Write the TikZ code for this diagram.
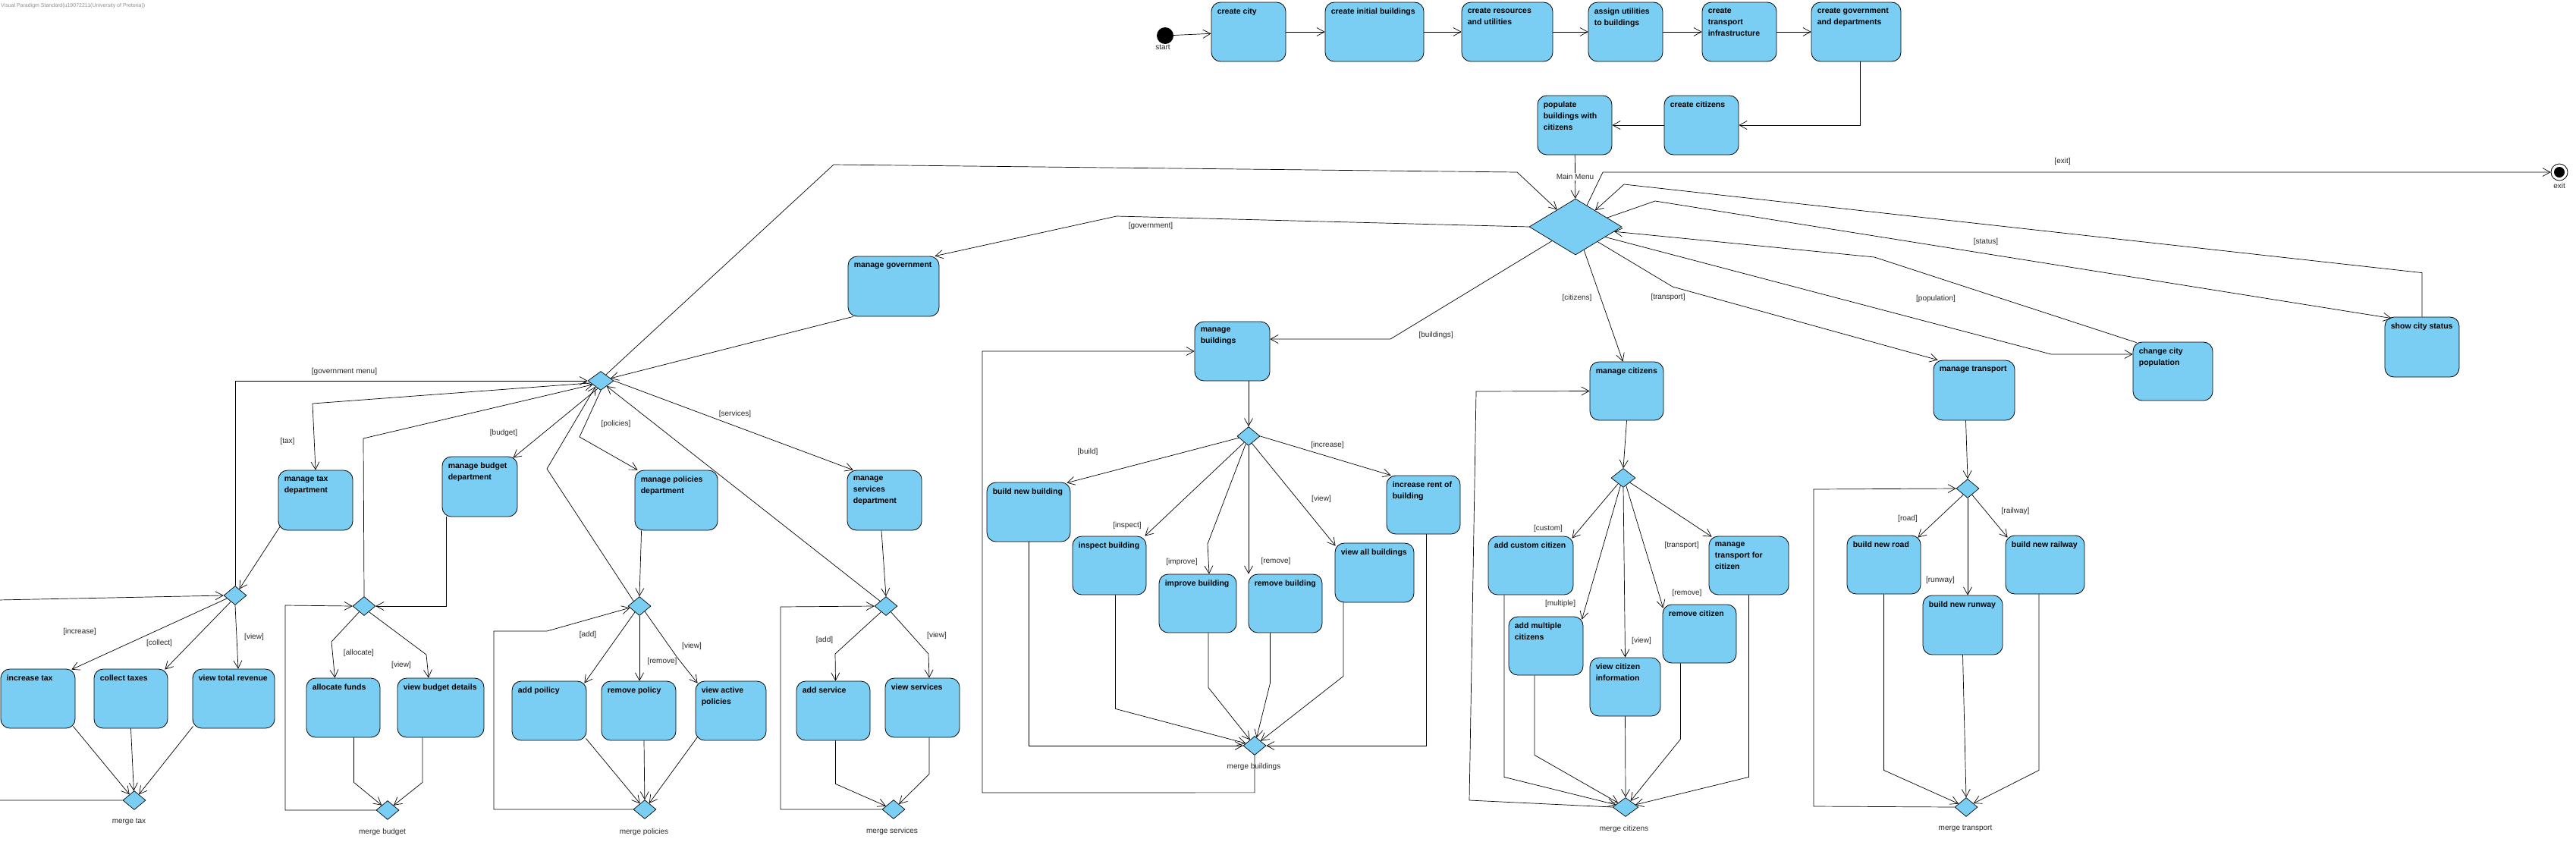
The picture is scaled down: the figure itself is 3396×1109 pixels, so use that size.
\documentclass[tikz,border=0pt]{standalone}
\usepackage{fontspec}
\setmainfont{Liberation Sans}
\usepackage{tikz}
\usetikzlibrary{arrows.meta, shapes.geometric}
\definecolor{actblue}{HTML}{7ACEF4}

\begin{document}
\begin{tikzpicture}[x=1pt, y=-1pt,
    act/.style={draw, fill=actblue, rounded corners=12pt, line width=0.8pt, inner sep=0pt, minimum height=78pt},
    actext/.style={anchor=north west, inner sep=0pt, xshift=8pt, yshift=-8pt, align=left, font=\bfseries\fontsize{10.5}{15}\selectfont},
    dec/.style={diamond, draw, fill=actblue, line width=0.7pt, inner sep=0pt, minimum width=30pt, minimum height=25pt},
    lbl/.style={font=\fontsize{10}{12}\selectfont, text=black!85, inner sep=1pt},
    flow/.style={line width=0.7pt, -{Straight Barb[length=10pt, width=11pt]}},
    initial/.style={circle, fill=black, minimum size=22pt, inner sep=0pt},
    final/.style={circle, draw, fill=white, line width=0.8pt, minimum size=22pt, inner sep=0pt},
    finaldot/.style={circle, fill=black, minimum size=14pt, inner sep=0pt}]

          \path[use as bounding box, fill=white] (0,0) rectangle (3396,1109);
          \node[anchor=west, font=\fontsize{7}{8}\selectfont, text=black!45, inner sep=0pt] (wm) at (1,8) {Visual Paradigm Standard(u19072211(University of Pretoria))};

          \node[initial] (start) at (1536,47) {};
          \node[lbl] (lstart) at (1533,62) {start};
          \node[act, minimum width=98pt, label={[actext]north west:create city}] (city) at (1646,42) {};
          \node[act, minimum width=130pt, label={[actext]north west:create initial buildings}] (initbld) at (1812,42) {};
          \node[act, minimum width=120pt, label={[actext]north west:{create resources\\and utilities}}] (resources) at (1987,42) {};
          \node[act, minimum width=98pt, label={[actext]north west:{assign utilities\\to buildings}}] (utilities) at (2143,42) {};
          \node[act, minimum width=98pt, label={[actext]north west:{create\\transport\\infrastructure}}] (transinfra) at (2293,42) {};
          \node[act, minimum width=118pt, label={[actext]north west:{create government\\and departments}}] (govdept) at (2447,42) {};
          \node[act, minimum width=98pt, label={[actext]north west:create citizens}] (makecit) at (2243,165) {};
          \node[act, minimum width=98pt, label={[actext]north west:{populate\\buildings with\\citizens}}] (populate) at (2076,165) {};

          \node[dec, minimum width=122pt, minimum height=74pt] (md) at (2077,299) {};
          \node[final] (exit) at (3374,227) {};
          \node[finaldot] (exitdot) at (exit.center) {};
          \node[lbl] (lexit) at (3374,245) {exit};

          \node[act, minimum width=120pt, minimum height=79pt, label={[actext]north west:manage government}] (mgov) at (1178,377.5) {};
          \node[act, minimum width=99pt, label={[actext]north west:{manage\\buildings}}] (mbld) at (1624.5,463) {};
          \node[act, minimum width=97pt, minimum height=77pt, label={[actext]north west:manage citizens}] (mcit) at (2144.5,515.5) {};
          \node[act, minimum width=107pt, minimum height=79pt, label={[actext]north west:manage transport}] (mtrans) at (2602.5,514.5) {};
          \node[act, minimum width=105pt, minimum height=77pt, label={[actext]north west:{change city\\population}}] (chpop) at (2864.5,489.5) {};
          \node[act, minimum width=98pt, minimum height=79pt, label={[actext]north west:show city status}] (status) at (3193,457.5) {};

          \node[dec, minimum width=34pt] (gd) at (792,502) {};
          \node[act, minimum width=98pt, minimum height=79pt, label={[actext]north west:{manage tax\\department}}] (mtax) at (416,659.5) {};
          \node[act, minimum width=99pt, minimum height=79pt, label={[actext]north west:{manage budget\\department}}] (mbud) at (632.5,641.5) {};
          \node[act, minimum width=109pt, minimum height=79pt, label={[actext]north west:{manage policies\\department}}] (mpol) at (891.5,659.5) {};
          \node[act, minimum width=98pt, minimum height=79pt, label={[actext]north west:{manage\\services\\department}}] (msrv) at (1166,659.5) {};

          \node[dec] (taxd) at (310,785) {};
          \node[act, minimum width=98pt, label={[actext]north west:increase tax}] (inctax) at (50,921) {};
          \node[act, minimum width=97pt, label={[actext]north west:collect taxes}] (coltax) at (172.5,921) {};
          \node[act, minimum width=108pt, label={[actext]north west:view total revenue}] (viewrev) at (308,921) {};
          \node[dec] (mtaxd) at (177,1055) {};
          \node[lbl] (lmtax) at (170,1083) {merge tax};

          \node[dec] (budd) at (480,799) {};
          \node[act, minimum width=97pt, label={[actext]north west:allocate funds}] (alloc) at (452.5,933) {};
          \node[act, minimum width=114pt, label={[actext]north west:view budget details}] (viewbud) at (581,933) {};
          \node[dec] (mbudd) at (511,1068) {};
          \node[lbl] (lmbud) at (504,1097) {merge budget};

          \node[dec] (pold) at (843,799) {};
          \node[act, minimum width=98pt, label={[actext]north west:add poilicy}] (addpol) at (724,937) {};
          \node[act, minimum width=98pt, label={[actext]north west:remove policy}] (rempol) at (842,937) {};
          \node[act, minimum width=93pt, label={[actext]north west:{view active\\policies}}] (viewpol) at (963.5,937) {};
          \node[dec] (mpold) at (850,1067) {};
          \node[lbl] (lmpol) at (849,1097) {merge policies};

          \node[dec] (srvd) at (1168,799) {};
          \node[act, minimum width=97pt, label={[actext]north west:add service}] (addsrv) at (1098.5,937) {};
          \node[act, minimum width=98pt, label={[actext]north west:view services}] (viewsrv) at (1216,933) {};
          \node[dec] (msrvd) at (1178,1067) {};
          \node[lbl] (lmsrv) at (1176,1096) {merge services};

          \node[dec] (bd) at (1646,575) {};
          \node[act, minimum width=110pt, label={[actext]north west:build new building}] (newbld) at (1356,675) {};
          \node[act, minimum width=97pt, minimum height=77pt, label={[actext]north west:inspect building}] (inspbld) at (1462.5,745.5) {};
          \node[act, minimum width=102pt, minimum height=77pt, label={[actext]north west:improve building}] (impbld) at (1579,795.5) {};
          \node[act, minimum width=97pt, minimum height=77pt, label={[actext]north west:remove building}] (rembld) at (1694.5,795.5) {};
          \node[act, minimum width=104pt, label={[actext]north west:view all buildings}] (viewbld) at (1812,755) {};
          \node[act, minimum width=97pt, minimum height=77pt, label={[actext]north west:{increase rent of\\building}}] (rentbld) at (1876.5,665.5) {};
          \node[dec] (mbldd) at (1654,983) {};
          \node[lbl] (lmbld) at (1653,1011) {merge buildings};

          \node[dec, minimum width=32pt] (cd) at (2140,630) {};
          \node[act, minimum width=112pt, minimum height=77pt, label={[actext]north west:add custom citizen}] (addcus) at (2018,745.5) {};
          \node[act, minimum width=98pt, minimum height=77pt, label={[actext]north west:{add multiple\\citizens}}] (addmul) at (2038,851.5) {};
          \node[act, minimum width=93pt, minimum height=77pt, label={[actext]north west:{view citizen\\information}}] (viewcit) at (2142.5,905.5) {};
          \node[act, minimum width=97pt, minimum height=77pt, label={[actext]north west:remove citizen}] (remcit) at (2240.5,835.5) {};
          \node[act, minimum width=105pt, minimum height=77pt, label={[actext]north west:{manage\\transport for\\citizen}}] (transcit) at (2305.5,745.5) {};
          \node[dec, minimum width=34pt] (mcitd) at (2143,1064) {};
          \node[lbl] (lmcit) at (2141,1093) {merge citizens};

          \node[dec] (td) at (2594,644) {};
          \node[act, minimum width=97pt, minimum height=77pt, label={[actext]north west:build new road}] (road) at (2483.5,744.5) {};
          \node[act, minimum width=104pt, minimum height=77pt, label={[actext]north west:build new railway}] (railway) at (2696,744.5) {};
          \node[act, minimum width=105pt, label={[actext]north west:build new runway}] (runway) at (2587.5,824) {};
          \node[dec] (mtransd) at (2592,1064) {};
          \node[lbl] (lmtrans) at (2591,1092) {merge transport};

          \draw[flow] (start) -- (city);
          \draw[flow] (city) -- (initbld);
          \draw[flow] (initbld) -- (resources);
          \draw[flow] (resources) -- (utilities);
          \draw[flow] (utilities) -- (transinfra);
          \draw[flow] (transinfra) -- (govdept);
          \draw[flow] ([xshift=5pt]govdept.south) |- (makecit.east);
          \draw[flow] (makecit) -- (populate);
          \draw[flow] (populate) -- node[lbl, fill=white] (lmain) {Main Menu} (md);
          \draw[flow] (md.62) -- (2113,227) -- (exit);

          \coordinate (bldbend) at (1833,447);
          \coordinate (popbend) at (2704,467);
          \draw[flow] (md.west) -- (1472,285) -- ([xshift=-6pt]mgov.north east);
          \draw[flow] (md.211) -- (bldbend) -- (mbld.east |- bldbend);
          \draw[flow] (md.290) -- ([xshift=-5pt]mcit.north);
          \draw[flow] (md.326) -- (2205,378) -- ([xshift=6pt]mtrans.north west);
          \draw[flow] (md.341) -- (popbend) -- (chpop.west |- popbend);
          \draw[flow] ([shift={(5,1)}]chpop.north west) -- (2471,339) -- (md.353);
          \draw[flow] (md.16) -- (2182,265) -- ([shift={(9,2)}]status.north west);
          \draw[flow] (status.north) -- ([yshift=58pt]status.north) -- (2141,243) -- (md.40);

          \draw[flow] ([xshift=7pt]mgov.south west) -- (gd);
          \draw[flow] (gd.50) -- (1099,217) -- (2000,227) -- (md.137);
          \draw[flow] (taxd.north) -- (taxd.north |- gd.west) -- (gd.west);
          \draw[flow] (gd.192) -- (412,532) -- (mtax.north);
          \draw[flow] ([shift={(3,-6)}]mtax.south west) -- (taxd);
          \draw[flow] (taxd.200) -- ([shift={(-5,1)}]inctax.north east);
          \draw[flow] (taxd.235) -- ([shift={(-4,1)}]coltax.north east);
          \draw[flow] (taxd.south) -- ([xshift=6pt]viewrev.north);
          \draw[flow] ([shift={(-3,-3)}]inctax.south east) -- (mtaxd);
          \draw[flow] (coltax.south) -- (mtaxd);
          \draw[flow] ([shift={(1,-3)}]viewrev.south west) -- (mtaxd);
          \draw[flow] (mtaxd.west) -- (-3,1055) -- (-3,791) -- (taxd.west);

          \draw[flow] (gd.249) -- ([shift={(-6,2)}]mbud.north east);
          \draw[flow] ([xshift=6pt]mbud.south west) |- (budd.east);
          \draw[flow] (budd.north) -- (479,578) -- (gd.205);
          \draw[flow] (budd.230) -- (437,846) -- ([xshift=-11pt]alloc.north);
          \draw[flow] (budd.310) -- (562,863) -- ([xshift=-16pt]viewbud.north);
          \draw[flow] ([xshift=14pt]alloc.south) -- ++(0,59) -- (mbudd);
          \draw[flow] ([xshift=-24pt]viewbud.south) -- ++(0,59) -- (mbudd);
          \draw[flow] (mbudd.west) -- (376,1068) -- (376,798) -- (budd.west);

          \draw[flow] (gd.south) -- (764,576) -- ([xshift=4pt]mpol.north west);
          \draw[flow] ([xshift=9pt]mpol.south west) -- (pold.north);
          \draw[flow] (pold.140) -- (721,618) -- (gd.228);
          \draw[flow] (pold.233) -- ([shift={(-3,3)}]addpol.north east);
          \draw[flow] (pold.south) -- (pold.south |- rempol.north);
          \draw[flow] (pold.315) -- (893,867) -- ([shift={(3,3)}]viewpol.north west);
          \draw[flow] ([shift={(-1,-3)}]addpol.south east) -- (mpold);
          \draw[flow] ([xshift=7pt]rempol.south) -- (mpold);
          \draw[flow] ([shift={(3,-5)}]viewpol.south west) -- (mpold);
          \draw[flow] (mpold.west) -- (651,1067) -- (651,832) -- (721,832) -- (pold.190);

          \draw[flow] (gd.east) -- ([xshift=8pt]msrv.north west);
          \draw[flow] ([xshift=-4pt]msrv.south) -- (srvd.north);
          \draw[flow] (srvd.140) -- (gd.318);
          \draw[flow] (srvd.230) -- (1101,862) -- ([xshift=3pt]addsrv.north);
          \draw[flow] (srvd.310) -- (1224,862) -- ([xshift=9pt]viewsrv.north);
          \draw[flow] ([xshift=3pt]addsrv.south) -- ++(0,57) -- (msrvd);
          \draw[flow] ([xshift=9pt]viewsrv.south) -- ++(0,48) -- (msrvd);
          \draw[flow] (msrvd.west) -- (1029,1067) -- (1029,800) -- (srvd.west);

          \draw[flow] (mbld.south -| bd.north) -- (bd.north);
          \draw[flow] (bd.190) -- ([shift={(-5,1)}]newbld.north east);
          \draw[flow] (bd.235) -- ([xshift=-2pt]inspbld.north east);
          \draw[flow] (bd.250) -- (1592,717) -- ([xshift=15pt]impbld.north);
          \draw[flow] (bd.south) -- (bd.south |- rembld.north);
          \draw[flow] (bd.295) -- ([shift={(1,4)}]viewbld.north west);
          \draw[flow] (bd.east) -- ([xshift=6pt]rentbld.north west);
          \draw[flow] (newbld.south) |- (mbldd.west);
          \draw[flow] ([xshift=8pt]inspbld.south) -- ++(0,150) -- (mbldd);
          \draw[flow] ([xshift=14pt]impbld.south) -- ++(0,72) -- (mbldd);
          \draw[flow] ([xshift=-20pt]rembld.south) -- ++(0,66) -- (mbldd);
          \draw[flow] ([xshift=-41pt]viewbld.south) -- ++(0,97) -- (mbldd);
          \draw[flow] ([xshift=4pt]rentbld.south) |- (mbldd.east);
          \draw[flow] (mbldd.south) -- ++(0,49) -- (1295,1045) -- (1295,463) -- (mbld.west);

          \draw[flow] (mcit.south) -- (cd.north);
          \draw[flow] (cd.228) -- ([shift={(-2,3)}]addcus.north east);
          \draw[flow] (cd.250) -- ([shift={(-2,4)}]addmul.north east);
          \draw[flow] (cd.south) -- (viewcit.north);
          \draw[flow] (cd.290) -- ([shift={(1,5)}]remcit.north west);
          \draw[flow] (cd.325) -- ([shift={(4,1)}]transcit.north west);
          \draw[flow] ([xshift=-35pt]addcus.south) -- ++(0,240) -- (mcitd);
          \draw[flow] ([xshift=-15pt]addmul.south) -- ++(0,105) -- (mcitd);
          \draw[flow] (viewcit.south) -- (mcitd.north);
          \draw[flow] ([xshift=-25pt]remcit.south) -- ++(0,100) -- (mcitd);
          \draw[flow] (transcit.south) -- ++(0,240) -- (mcitd);
          \draw[flow] (mcitd.west) -- (1937,1055) -- (1946,516) -- (mcit.west);

          \draw[flow] ([xshift=-11pt]mtrans.south) -- (td.north);
          \draw[flow] (td.235) -- ([shift={(-4,3)}]road.north east);
          \draw[flow] (td.south) -- (td.south |- runway.north);
          \draw[flow] (td.305) -- ([shift={(3,3)}]railway.north west);
          \draw[flow] (road.south) -- ++(0,232) -- (mtransd);
          \draw[flow] (runway.south) -- (mtransd.north);
          \draw[flow] ([xshift=-8pt]railway.south) -- ++(0,232) -- (mtransd);
          \draw[flow] (mtransd.west) -- (2391,1063) -- (2391,645) -- (td.west);

          \node[lbl] (lexitg) at (2719,213) {[exit]};
          \node[lbl] (lgov) at (1517,298) {[government]};
          \node[lbl] (lbld) at (1893,442) {[buildings]};
          \node[lbl] (lcit) at (2079,393) {[citizens]};
          \node[lbl] (ltrans) at (2199,392) {[transport]};
          \node[lbl] (lpop) at (2552,394) {[population]};
          \node[lbl] (lstat) at (2618,319) {[status]};
          \node[lbl] (lgmenu) at (454,490) {[government menu]};
          \node[lbl] (ltax) at (379,582) {[tax]};
          \node[lbl] (lbud) at (664,571) {[budget]};
          \node[lbl] (lpol) at (812,559) {[policies]};
          \node[lbl] (lsrv) at (969,546) {[services]};
          \node[lbl] (linctax) at (105,833) {[increase]};
          \node[lbl] (lcoltax) at (210,848) {[collect]};
          \node[lbl] (lviewrev) at (335,840) {[view]};
          \node[lbl] (lalloc) at (473,861) {[allocate]};
          \node[lbl] (lviewbud) at (529,877) {[view]};
          \node[lbl] (laddpol) at (775,837) {[add]};
          \node[lbl] (lrempol) at (873,872) {[remove]};
          \node[lbl] (lviewpol) at (912,852) {[view]};
          \node[lbl] (laddsrv) at (1087,844) {[add]};
          \node[lbl] (lviewsrv) at (1235,838) {[view]};
          \node[lbl] (lnewbld) at (1434,596) {[build]};
          \node[lbl] (linspbld) at (1486,693) {[inspect]};
          \node[lbl] (limpbld) at (1558,741) {[improve]};
          \node[lbl] (lrembld) at (1682,740) {[remove]};
          \node[lbl] (lviewbld) at (1742,658) {[view]};
          \node[lbl] (lrentbld) at (1750,587) {[increase]};
          \node[lbl] (laddcus) at (2041,697) {[custom]};
          \node[lbl] (laddmul) at (2057,796) {[multiple]};
          \node[lbl] (lviewcit) at (2164,845) {[view]};
          \node[lbl] (lremcit) at (2224,782) {[remove]};
          \node[lbl] (ltranscit) at (2217,719) {[transport]};
          \node[lbl] (lroad) at (2515,684) {[road]};
          \node[lbl] (lrunway) at (2558,765) {[runway]};
          \node[lbl] (lrailway) at (2657,674) {[railway]};
        \end{tikzpicture}
\end{document}
